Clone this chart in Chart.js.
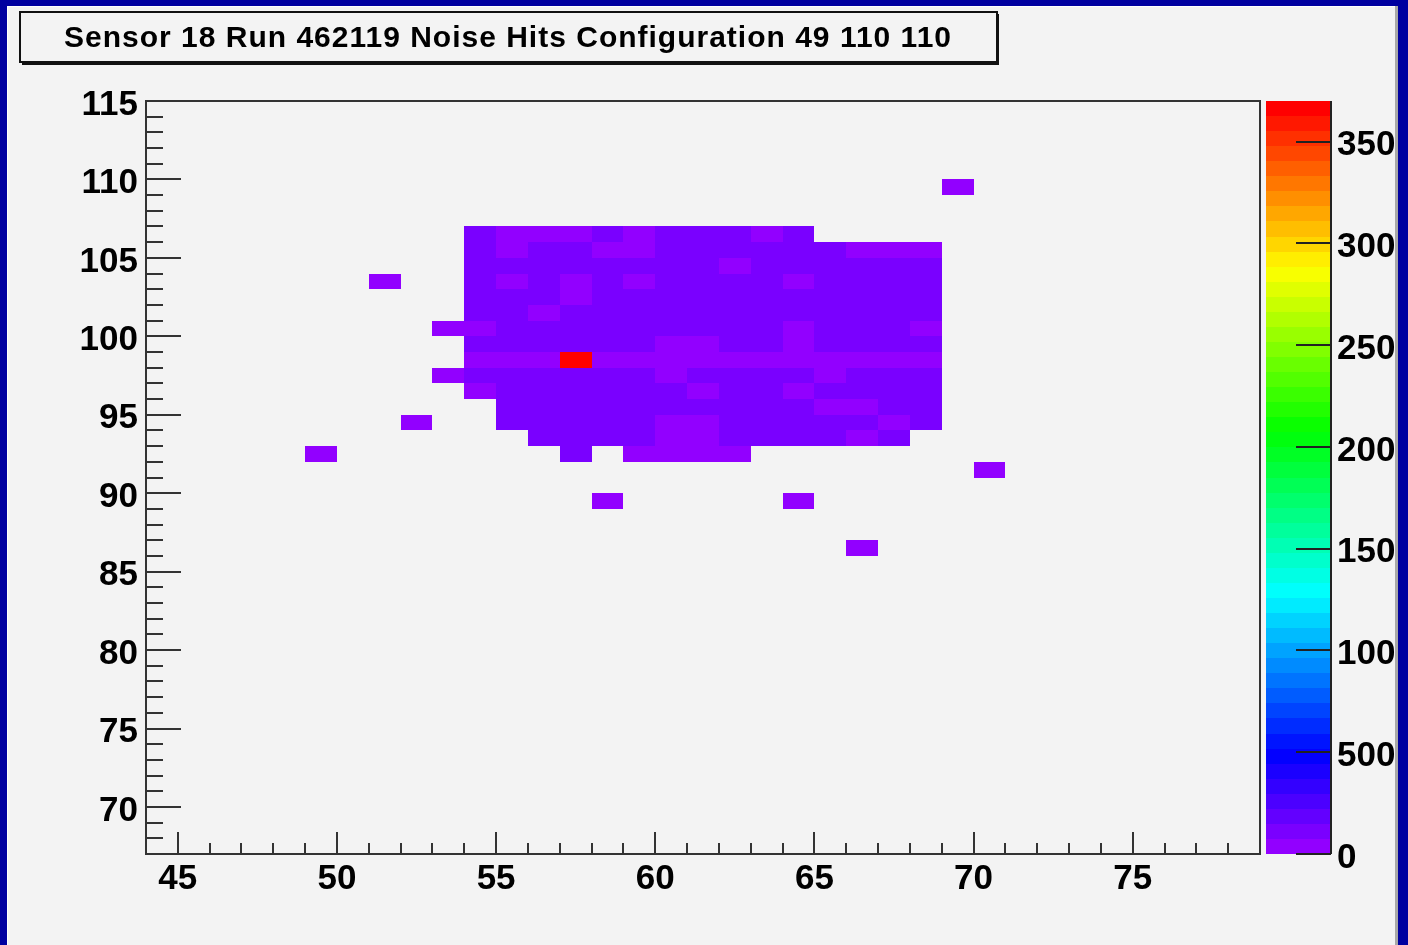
<!DOCTYPE html>
<html>
<head>
<meta charset="utf-8">
<title>Sensor 18 Run 462119 Noise Hits</title>
<script src="https://cdn.jsdelivr.net/npm/chart.js@4.4.1/dist/chart.umd.min.js"></script>
<style>
  html, body { margin: 0; padding: 0; background: #f3f3f3; overflow: hidden; }
  canvas { display: block; }
</style>
</head>
<body>
<canvas id="hitmap" width="1408" height="945"></canvas>
<script>
const titleText = "Sensor 18 Run 462119 Noise Hits Configuration 49 110 110";

// axis ranges and tick labels
const xRange = [44, 79];
const yRange = [67, 115];
const zMax = 3700;
const xTicks = [45, 50, 55, 60, 65, 70, 75];
const yTicks = [70, 75, 80, 85, 90, 95, 100, 105, 110, 115];
const zTicks = [0, 500, 1000, 1500, 2000, 2500, 3000, 3500];
const binWidth = 1;

// main cluster: one row per y bin, counts start at column rowStart (0 = empty bin)
const rowY = [106, 105, 104, 103, 102, 101, 100, 99, 98, 97, 96, 95, 94, 93, 92];
const rowStart = [54, 54, 54, 54, 54, 54, 54, 54, 54, 54, 54, 55, 55, 56, 57];
const rowCounts = [
  [110, 45, 45, 45, 110, 45, 110, 110, 110, 45, 110],
  [110, 45, 110, 110, 45, 45, 110, 110, 110, 110, 110, 110, 45, 45, 45],
  [110, 110, 110, 110, 110, 110, 110, 110, 45, 110, 110, 110, 110, 110, 110],
  [110, 45, 110, 45, 110, 45, 110, 110, 110, 110, 45, 110, 110, 110, 110],
  [110, 110, 110, 45, 110, 110, 110, 110, 110, 110, 110, 110, 110, 110, 110],
  [110, 110, 45, 110, 110, 110, 110, 110, 110, 110, 110, 110, 110, 110, 110],
  [45, 110, 110, 110, 110, 110, 110, 110, 110, 110, 45, 110, 110, 110, 45],
  [110, 110, 110, 110, 110, 110, 45, 45, 110, 110, 45, 110, 110, 110, 110],
  [45, 45, 45, 3690, 45, 45, 45, 45, 45, 45, 45, 45, 45, 45, 45],
  [110, 110, 110, 110, 110, 110, 45, 110, 110, 110, 110, 45, 110, 110, 110],
  [45, 110, 110, 110, 110, 110, 110, 45, 110, 110, 45, 110, 110, 110, 110],
  [110, 110, 110, 110, 110, 110, 110, 110, 110, 110, 45, 45, 110, 110],
  [110, 110, 110, 110, 110, 45, 45, 110, 110, 110, 110, 110, 45, 110],
  [110, 110, 110, 110, 45, 45, 110, 110, 110, 110, 45, 110],
  [110, 0, 45, 45, 45, 45]
];

// isolated noisy pixels
const hitX = [69, 51, 53, 53, 52, 49, 70, 58, 64, 66];
const hitY = [109, 103, 100, 97, 94, 92, 91, 89, 89, 86];
const hitCounts = [45, 45, 45, 45, 45, 45, 45, 45, 45, 45];

const cells = [];
rowY.forEach((yb, r) => {
  rowCounts[r].forEach((v, i) => {
    if (v > 0) cells.push({ x: rowStart[r] + i + binWidth / 2, y: yb + binWidth / 2, v: v });
  });
});
hitX.forEach((xb, i) => cells.push({ x: xb + binWidth / 2, y: hitY[i] + binWidth / 2, v: hitCounts[i] }));

// ROOT "pretty" palette: 50 hues from violet to red
const nColours = 50;
function paletteColour(i) {
  const hue = 280 - (i + 1) * (280 / nColours);
  return `hsl(${hue}, 100%, 50%)`;
}
function colourFor(v) {
  return paletteColour(Math.min(nColours - 1, Math.floor(0.01 + v / zMax * nColours)));
}

const font = { family: "'Liberation Sans', Arial, sans-serif", weight: 'bold', size: 35 };
const plain = v => String(v);

const heatmap = {
  id: 'heatmap',
  beforeDraw(chart) {
    const ctx = chart.ctx;
    ctx.save();
    ctx.fillStyle = '#f3f3f3';
    ctx.fillRect(0, 0, chart.width, chart.height);
    ctx.restore();
  },
  beforeDatasetsDraw(chart) {
    const { ctx, scales: { x, y } } = chart;
    ctx.save();
    chart.data.datasets[0].data.forEach(d => {
      const x0 = Math.round(x.getPixelForValue(d.x - binWidth / 2));
      const x1 = Math.round(x.getPixelForValue(d.x + binWidth / 2));
      const y0 = Math.round(y.getPixelForValue(d.y + binWidth / 2));
      const y1 = Math.round(y.getPixelForValue(d.y - binWidth / 2));
      ctx.fillStyle = colourFor(d.v);
      ctx.fillRect(x0, y0, x1 - x0, y1 - y0);
    });
    ctx.restore();
  },
  afterDraw(chart) {
    const { ctx, chartArea: a, scales: { x, y, z } } = chart;
    ctx.save();

    // frame
    ctx.strokeStyle = '#333';
    ctx.lineWidth = 2;
    ctx.strokeRect(a.left, a.top, a.right - a.left, a.bottom - a.top);

    // inward ticks, ROOT style
    ctx.beginPath();
    for (let v = Math.ceil(yRange[0]); v <= yRange[1]; v++) {
      const p = Math.round(y.getPixelForValue(v));
      ctx.moveTo(a.left, p);
      ctx.lineTo(a.left + (v % 5 === 0 ? 35 : 17), p);
    }
    for (let v = Math.ceil(xRange[0]) + 1; v < xRange[1]; v++) {
      const p = Math.round(x.getPixelForValue(v));
      ctx.moveTo(p, a.bottom);
      ctx.lineTo(p, a.bottom - (v % 5 === 0 ? 22 : 11));
    }
    ctx.stroke();

    // colour bar
    const bx = a.right + 6, bw = 65;
    for (let i = 0; i < nColours; i++) {
      const y0 = Math.round(z.getPixelForValue((i + 1) * zMax / nColours));
      const y1 = Math.round(z.getPixelForValue(i * zMax / nColours));
      ctx.fillStyle = paletteColour(i);
      ctx.fillRect(bx, y0, bw, y1 - y0);
    }
    ctx.strokeStyle = '#222';
    ctx.lineWidth = 2;
    ctx.beginPath();
    ctx.moveTo(bx + bw, a.top);
    ctx.lineTo(bx + bw, a.bottom);
    zTicks.forEach(v => {
      const p = Math.round(z.getPixelForValue(v));
      ctx.moveTo(bx + bw, p);
      ctx.lineTo(bx + bw - 35, p);
    });
    ctx.stroke();

    // title box with shadow
    ctx.fillStyle = '#f3f3f3';
    ctx.fillRect(20, 12, 977, 50);
    ctx.fillStyle = '#111';
    ctx.fillRect(22, 61, 977, 4);
    ctx.fillRect(996, 14, 3, 51);
    ctx.strokeStyle = '#111';
    ctx.lineWidth = 2;
    ctx.strokeRect(20, 12, 977, 50);
    ctx.fillStyle = '#000';
    ctx.font = "bold 30px 'Liberation Sans', Arial, sans-serif";
    ctx.letterSpacing = '1px';
    ctx.textAlign = 'center';
    ctx.textBaseline = 'alphabetic';
    ctx.fillText(titleText, 508, 47);
    ctx.letterSpacing = '0px';

    // canvas border
    ctx.fillStyle = '#0000a0';
    ctx.fillRect(0, 0, chart.width, 6);
    ctx.fillRect(0, 0, 7, chart.height);
    ctx.fillRect(1398, 0, chart.width - 1398, chart.height);
    ctx.fillStyle = '#ffffff';
    ctx.fillRect(7, 6, 1390, 1);
    ctx.fillRect(7, 6, 1, chart.height);
    ctx.fillStyle = '#a8a8a8';
    ctx.fillRect(1395, 6, 3, chart.height);
    ctx.restore();
  }
};

function fixedTicks(list) {
  return scale => { scale.ticks = list.map(v => ({ value: v })); };
}

new Chart(document.getElementById('hitmap'), {
  type: 'scatter',
  data: {
    datasets: [{ data: cells, pointRadius: 0, pointHoverRadius: 0 }]
  },
  options: {
    responsive: false,
    animation: false,
    events: [],
    layout: { padding: { top: 101, left: 0, right: 0, bottom: 0 } },
    plugins: { legend: { display: false }, tooltip: { enabled: false } },
    scales: {
      x: {
        type: 'linear', position: 'bottom', min: xRange[0], max: xRange[1],
        grid: { display: false, drawTicks: false }, border: { display: false },
        ticks: { font: font, color: '#000', padding: 4, autoSkip: false, maxRotation: 0, callback: plain },
        afterBuildTicks: fixedTicks(xTicks),
        afterFit: s => { s.height = 91; }
      },
      y: {
        type: 'linear', position: 'left', min: yRange[0], max: yRange[1],
        grid: { display: false, drawTicks: false }, border: { display: false },
        ticks: { font: font, color: '#000', padding: 8, autoSkip: false, labelOffset: 4, callback: plain },
        afterBuildTicks: fixedTicks(yTicks),
        afterFit: s => { s.width = 146; }
      },
      z: {
        type: 'linear', position: 'right', min: 0, max: zMax,
        grid: { display: false, drawTicks: true, tickLength: 70 }, border: { display: false },
        ticks: { font: font, color: '#000', padding: 7, autoSkip: false, labelOffset: 4, callback: plain },
        afterBuildTicks: fixedTicks(zTicks),
        afterFit: s => { s.width = 148; }
      }
    }
  },
  plugins: [heatmap]
});
</script>
</body>
</html>
